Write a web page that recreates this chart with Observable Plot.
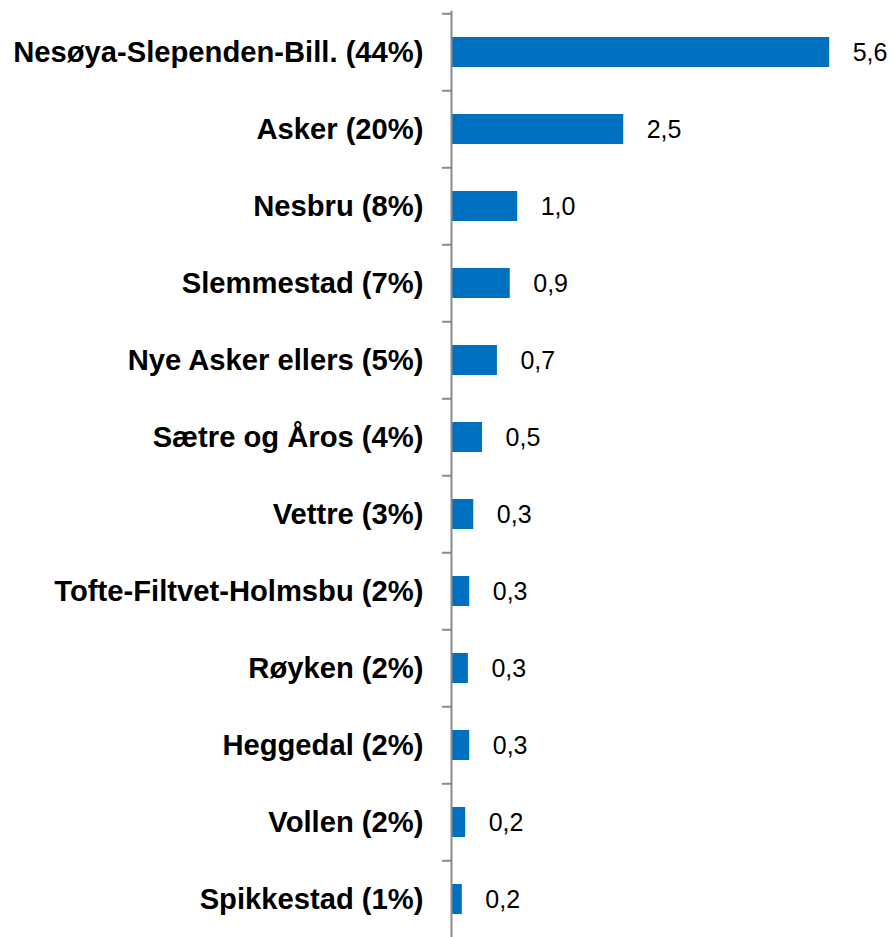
<!DOCTYPE html>
<html>
<head>
<meta charset="utf-8">
<script src="https://cdn.jsdelivr.net/npm/d3@7"></script>
<script src="https://cdn.jsdelivr.net/npm/@observablehq/plot@0.6"></script>
<style>
  html, body { margin: 0; padding: 0; background: #fff; overflow: hidden; }
  #chart svg { display: block; }
</style>
</head>
<body>
<div id="chart"></div>
<script>
const categories = [
  "Nesøya-Slependen-Bill. (44%)",
  "Asker (20%)",
  "Nesbru (8%)",
  "Slemmestad (7%)",
  "Nye Asker ellers (5%)",
  "Sætre og Åros (4%)",
  "Vettre (3%)",
  "Tofte-Filtvet-Holmsbu (2%)",
  "Røyken (2%)",
  "Heggedal (2%)",
  "Vollen (2%)",
  "Spikkestad (1%)"
];
const values = [5.6, 2.55, 0.98, 0.87, 0.68, 0.46, 0.33, 0.27, 0.25, 0.27, 0.21, 0.16];
const valueLabels = ["5,6", "2,5", "1,0", "0,9", "0,7", "0,5", "0,3", "0,3", "0,3", "0,3", "0,2", "0,2"];

const data = categories.map((c, i) => ({category: c, value: values[i], label: valueLabels[i]}));

const rangeTop = 10.8, rangeBottom = 940.5;
const bandStep = (rangeBottom - rangeTop) / categories.length;

const chart = Plot.plot({
  width: 892,
  height: 941,
  marginLeft: 451,
  marginRight: 0,
  marginTop: rangeTop,
  marginBottom: 941 - rangeBottom,
  style: {fontFamily: "Arial, 'Liberation Sans', sans-serif", color: "#000", background: "#fff"},
  x: {domain: [0, 6.53], axis: null},
  y: {domain: categories, paddingInner: 0.604, paddingOuter: 0.302, axis: null},
  marks: [
    Plot.barX(data, {x: "value", y: "category", fill: "#0070C0"}),
    Plot.ruleX([0], {stroke: "#8a8a8a", strokeWidth: 2}),
    Plot.axisY({
      ticks: categories,
      tickSize: 9,
      tickFormat: () => "",
      label: null,
      stroke: "#8a8a8a",
      strokeWidth: 2,
      dy: -bandStep / 2
    }),
    Plot.axisY({
      tickSize: 0,
      tickPadding: 28,
      label: null,
      fontSize: 29.2,
      fontWeight: "bold",
      fill: "#000"
    }),
    Plot.text(data, {x: "value", y: "category", text: "label", dx: 23, textAnchor: "start", fontSize: 25, fill: "#000"})
  ]
});
document.getElementById("chart").appendChild(chart);
</script>
</body>
</html>
